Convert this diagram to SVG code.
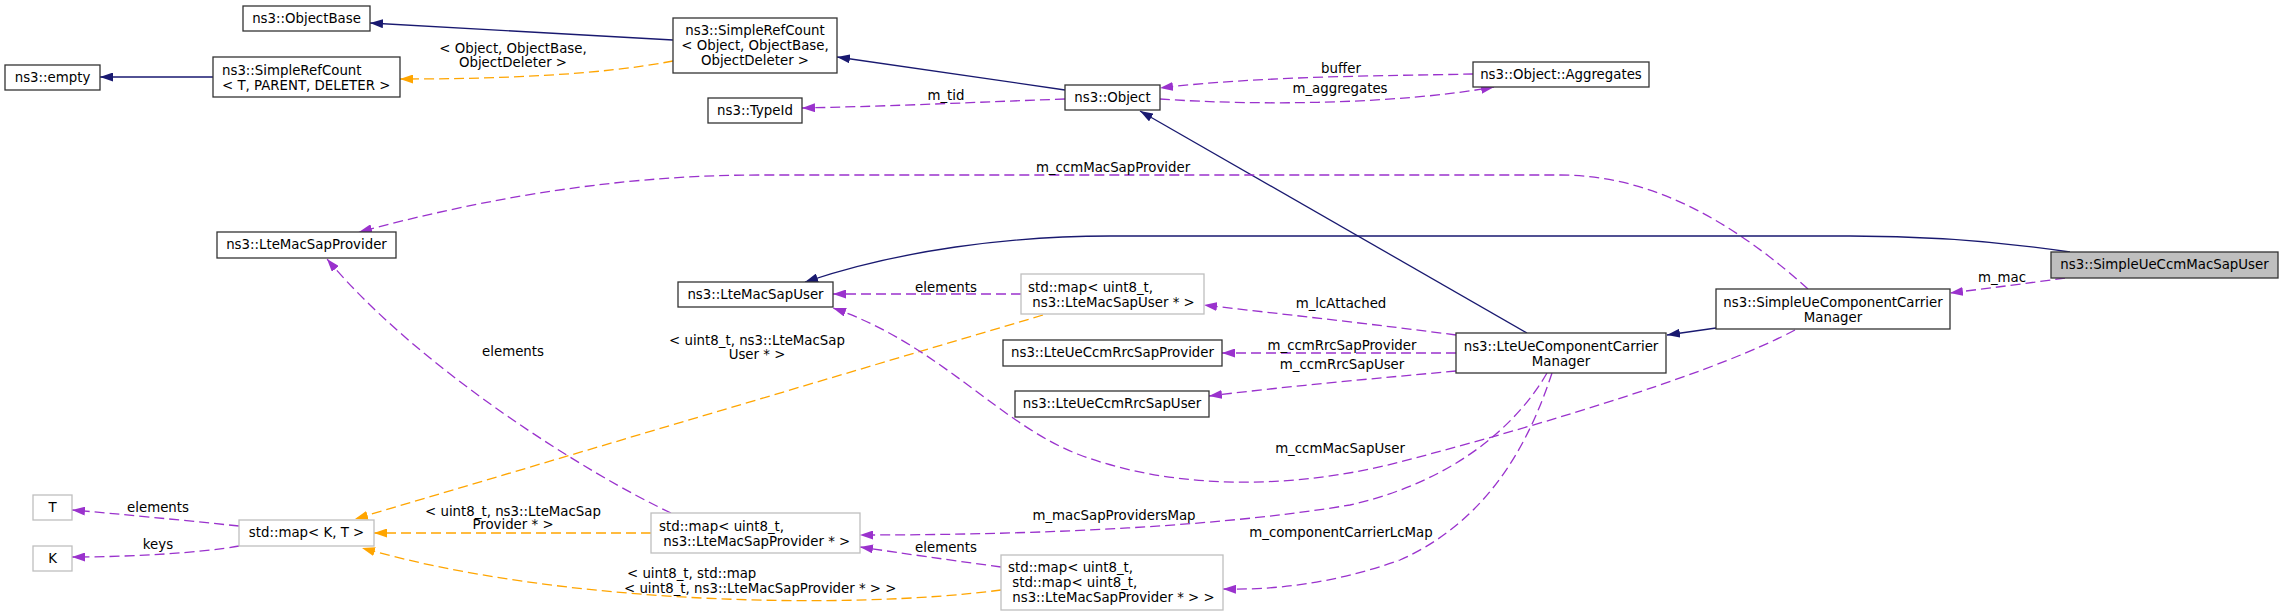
<svg xmlns="http://www.w3.org/2000/svg" width="2284" height="616" viewBox="0 0 2284 616">
<style>
text{font-family:"DejaVu Sans","Liberation Sans",sans-serif;font-size:13.33px;fill:#000}
.c{text-anchor:middle}
.nd rect{fill:#fff;stroke:#333;stroke-width:1.3}
.gr rect{fill:#fff;stroke:#bfbfbf;stroke-width:1.3}
.main rect{fill:#bfbfbf;stroke:#333;stroke-width:1.3}
#edges path{fill:none;stroke-width:1.3}
.inh{stroke:#191970;marker-end:url(#aN)}
.use{stroke:#9a32cd;stroke-dasharray:10,5;marker-end:url(#aP)}
.tpl{stroke:#ffa500;stroke-dasharray:10,5;marker-end:url(#aO)}
</style>
<defs>
<marker id="aN" markerUnits="userSpaceOnUse" viewBox="0 0 13 9" markerWidth="13" markerHeight="9" refX="13" refY="4.5" orient="auto"><path d="M0,0L13,4.5L0,9z" fill="#191970"/></marker>
<marker id="aP" markerUnits="userSpaceOnUse" viewBox="0 0 13 9" markerWidth="13" markerHeight="9" refX="13" refY="4.5" orient="auto"><path d="M0,0L13,4.5L0,9z" fill="#9a32cd"/></marker>
<marker id="aO" markerUnits="userSpaceOnUse" viewBox="0 0 13 9" markerWidth="13" markerHeight="9" refX="13" refY="4.5" orient="auto"><path d="M0,0L13,4.5L0,9z" fill="#ffa500"/></marker>
</defs>
<rect width="2284" height="616" fill="#fff"/>

<g id="edges">
<path class="inh" d="M673,40 L370,23"/>
<path class="inh" d="M213,77 L100,77"/>
<path class="tpl" d="M673,61 C600,75 500,79 400,79"/>
<path class="inh" d="M1065,90 L837,57"/>
<path class="use" d="M1065,99 C980,102 900,106 802,108"/>
<path class="use" d="M1473,74 C1380,76 1260,76 1160,88"/>
<path class="use" d="M1160,99 C1260,106 1400,104 1494,87"/>
<path class="inh" d="M1527,333 L1140,111"/>
<path class="use" d="M1808,289 C1720,210 1640,175 1560,175 L760,175 C600,175 460,205 359,232"/>
<path class="inh" d="M2070,252 C1990,240 1920,236 1850,236 L1110,236 C1010,236 900,250 805,282"/>
<path class="use" d="M1021,294 L833,294"/>
<path class="use" d="M1456,335 C1380,325 1290,315 1204,305"/>
<path class="use" d="M1456,353 L1222,353"/>
<path class="use" d="M1456,371 C1380,378 1290,386 1209,396"/>
<path class="inh" d="M1716,328 L1667,335"/>
<path class="use" d="M2065,278 C2030,283 1990,288 1950,293"/>
<path class="use" d="M671,513 C590,475 420,370 327,259"/>
<path class="tpl" d="M1043,315 L355,519"/>
<path class="tpl" d="M651,533 L374,533"/>
<path class="tpl" d="M1001,590 C850,610 560,605 362,548"/>
<path class="use" d="M239,526 C180,520 120,514 72,510"/>
<path class="use" d="M239,546 C200,553 130,557 72,557"/>
<path class="use" d="M1547,373 C1520,420 1460,480 1350,505 C1200,530 1000,535 860,535"/>
<path class="use" d="M1552,373 C1530,440 1490,520 1400,560 C1330,585 1270,590 1223,589"/>
<path class="use" d="M1001,567 C950,560 900,553 860,547"/>
<path class="use" d="M1795,330 C1720,370 1560,420 1400,462 C1300,488 1180,492 1080,455 C1000,425 940,345 833,308"/>

<text class="c" x="513" y="53">&lt; Object, ObjectBase,</text>
<text class="c" x="513" y="67">ObjectDeleter &gt;</text>
<text class="c" x="946" y="100">m_tid</text>
<text class="c" x="1341" y="73">buffer</text>
<text class="c" x="1340" y="93">m_aggregates</text>
<text class="c" x="1113" y="172">m_ccmMacSapProvider</text>
<text class="c" x="946" y="292">elements</text>
<text class="c" x="1341" y="308">m_lcAttached</text>
<text class="c" x="1342" y="350">m_ccmRrcSapProvider</text>
<text class="c" x="1342" y="369">m_ccmRrcSapUser</text>
<text class="c" x="757" y="345">&lt; uint8_t, ns3::LteMacSap</text>
<text class="c" x="757" y="359">User * &gt;</text>
<text class="c" x="513" y="356">elements</text>
<text class="c" x="2002" y="282">m_mac</text>
<text class="c" x="1340" y="453">m_ccmMacSapUser</text>
<text class="c" x="158" y="512">elements</text>
<text class="c" x="158" y="549">keys</text>
<text class="c" x="513" y="516">&lt; uint8_t, ns3::LteMacSap</text>
<text class="c" x="513" y="529">Provider * &gt;</text>
<text class="c" x="1114" y="520">m_macSapProvidersMap</text>
<text class="c" x="1341" y="537">m_componentCarrierLcMap</text>
<text class="c" x="946" y="552">elements</text>
<text x="627" y="578">&lt; uint8_t, std::map</text>
<text x="624" y="593">&lt; uint8_t, ns3::LteMacSapProvider * &gt; &gt;</text>
</g>

<g id="n_objectbase" class="nd"><rect x="243" y="6" width="127" height="25"/><text class="c" x="306.5" y="23">ns3::ObjectBase</text></g>
<g id="n_empty" class="nd"><rect x="5" y="65" width="95" height="25"/><text class="c" x="52.5" y="82">ns3::empty</text></g>
<g id="n_src_t" class="nd"><rect x="213" y="57" width="187" height="40"/><text x="222" y="75">ns3::SimpleRefCount</text><text x="222" y="90">&lt; T, PARENT, DELETER &gt;</text></g>
<g id="n_src_obj" class="nd"><rect x="673" y="18" width="164" height="55"/><text class="c" x="755" y="35">ns3::SimpleRefCount</text><text class="c" x="755" y="50">&lt; Object, ObjectBase,</text><text class="c" x="755" y="65">ObjectDeleter &gt;</text></g>
<g id="n_typeid" class="nd"><rect x="708" y="98" width="94" height="25"/><text class="c" x="755" y="115">ns3::TypeId</text></g>
<g id="n_object" class="nd"><rect x="1065" y="85" width="95" height="25"/><text class="c" x="1112.5" y="102">ns3::Object</text></g>
<g id="n_aggregates" class="nd"><rect x="1473" y="62" width="176" height="25"/><text class="c" x="1561" y="79">ns3::Object::Aggregates</text></g>
<g id="n_macsapprovider" class="nd"><rect x="217" y="232" width="179" height="26"/><text class="c" x="306.5" y="249">ns3::LteMacSapProvider</text></g>
<g id="n_macsapuser" class="nd"><rect x="678" y="282" width="155" height="25"/><text class="c" x="755.5" y="299">ns3::LteMacSapUser</text></g>
<g id="n_map_user" class="gr"><rect x="1021" y="274" width="183" height="40"/><text x="1028" y="292" xml:space="preserve">std::map&lt; uint8_t,</text><text x="1028" y="307" xml:space="preserve"> ns3::LteMacSapUser * &gt;</text></g>
<g id="n_rrcprovider" class="nd"><rect x="1003" y="340" width="219" height="26"/><text class="c" x="1112.5" y="357">ns3::LteUeCcmRrcSapProvider</text></g>
<g id="n_rrcuser" class="nd"><rect x="1015" y="391" width="194" height="26"/><text class="c" x="1112" y="408">ns3::LteUeCcmRrcSapUser</text></g>
<g id="n_lteueccm" class="nd"><rect x="1456" y="333" width="210" height="40"/><text class="c" x="1561" y="351">ns3::LteUeComponentCarrier</text><text class="c" x="1561" y="366">Manager</text></g>
<g id="n_simpleueccm" class="nd"><rect x="1716" y="289" width="234" height="40"/><text class="c" x="1833" y="307">ns3::SimpleUeComponentCarrier</text><text class="c" x="1833" y="322">Manager</text></g>
<g id="n_main" class="main"><rect x="2051" y="252" width="227" height="26"/><text class="c" x="2164.5" y="269">ns3::SimpleUeCcmMacSapUser</text></g>
<g id="n_T" class="gr"><rect x="33" y="495" width="39" height="25"/><text class="c" x="52.5" y="512">T</text></g>
<g id="n_K" class="gr"><rect x="33" y="546" width="39" height="25"/><text class="c" x="52.5" y="563">K</text></g>
<g id="n_map_kt" class="gr"><rect x="239" y="520" width="135" height="26"/><text class="c" x="306.5" y="537">std::map&lt; K, T &gt;</text></g>
<g id="n_map_provider" class="gr"><rect x="651" y="513" width="209" height="40"/><text x="659" y="531" xml:space="preserve">std::map&lt; uint8_t,</text><text x="659" y="546" xml:space="preserve"> ns3::LteMacSapProvider * &gt;</text></g>
<g id="n_map_map" class="gr"><rect x="1001" y="555" width="222" height="55"/><text x="1008" y="572" xml:space="preserve">std::map&lt; uint8_t,</text><text x="1008" y="587" xml:space="preserve"> std::map&lt; uint8_t,</text><text x="1008" y="602" xml:space="preserve"> ns3::LteMacSapProvider * &gt; &gt;</text></g>
</svg>
